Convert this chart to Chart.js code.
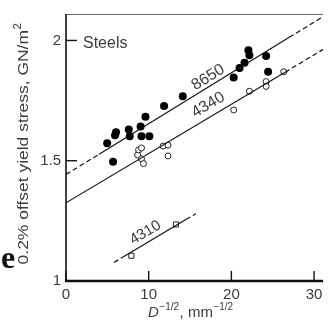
<!DOCTYPE html>
<html>
<head>
<meta charset="utf-8">
<script src="https://cdn.jsdelivr.net/npm/chart.js@4.4.1/dist/chart.umd.min.js"></script>
<style>
  html, body { margin: 0; padding: 0; background: #fff; }
  #wrap { width: 328px; height: 324px; }
</style>
</head>
<body>
<div id="wrap"><canvas id="graph"></canvas></div>
<script>
// ticks
const xTicks = [0, 10, 20, 30];
const yTicks = [1, 1.5, 2];
const yTickLabels = ['1', '1.5', '2'];

// 8650 steel (filled dots)
const s8650X = [4.98, 5.69, 5.93, 6.05, 7.59, 7.71, 9.02, 9.61, 9.13, 10.08, 11.86, 14.12, 20.28, 20.99, 21.59, 22.06, 22.18, 24.20, 24.44];
const s8650Y = [1.573, 1.496, 1.606, 1.618, 1.630, 1.602, 1.642, 1.683, 1.602, 1.602, 1.728, 1.768, 1.846, 1.886, 1.907, 1.959, 1.939, 1.935, 1.870];

// 4340 steel (open circles)
const s4340X = [8.66, 8.78, 9.13, 9.13, 9.37, 11.74, 12.34, 12.34, 20.28, 22.18, 24.20, 24.20, 26.33];
const s4340Y = [1.524, 1.545, 1.553, 1.508, 1.488, 1.561, 1.565, 1.520, 1.711, 1.789, 1.829, 1.809, 1.870];

// 4310 steel (open squares)
const s4310X = [7.9, 13.3];
const s4310Y = [1.105, 1.235];

// fitted lines (dashed ends, solid middle)
const fit8650X = [0, 4, 27, 31.1];
const fit8650Y = [1.443, 1.527, 2.013, 2.099];
const fit4340X = [0, 26.5, 31.1];
const fit4340Y = [1.325, 1.868, 1.963];
const fit4310X = [5.8, 7.0, 14.5, 15.7];
const fit4310Y = [1.077, 1.102, 1.256, 1.280];

// labels written along the lines
const lineNames = ['8650', '4340', '4310'];
const lineLabelX = [17.2, 17.2, 9.6];
const lineLabelY = [1.846, 1.732, 1.201];

function pts(xs, ys) {
    return xs.map((x, i) => ({x: x, y: ys[i]}));
}

function fitSet(xs, ys, solidIdx) {
    return {
        type: 'line',
        data: pts(xs, ys),
        borderColor: '#111',
        borderWidth: 1.2,
        pointRadius: 0,
        fill: false,
        segment: {
            borderDash: ctx => (solidIdx.indexOf(ctx.p0DataIndex) >= 0 ? [] : [5, 3])
        }
    };
}

const ink = '#3c3c3c';
const sans = '"Liberation Sans", Arial, sans-serif';

const decor = {
    id: 'decor',
    afterDatasetsDraw(chart) {
        const c = chart.ctx;
        const a = chart.chartArea;
        const xs = chart.scales.x, ys = chart.scales.y;
        c.save();
        // frame
        c.strokeStyle = '#666';
        c.lineWidth = 1;
        c.beginPath(); c.moveTo(a.left, a.top + 0.5); c.lineTo(a.right, a.top + 0.5); c.stroke();
        c.strokeStyle = '#111';
        c.lineWidth = 1.6;
        c.beginPath(); c.moveTo(a.left, a.top); c.lineTo(a.left, a.bottom); c.stroke();
        c.lineWidth = 2.6;
        c.beginPath(); c.moveTo(a.left - 1, a.bottom); c.lineTo(a.right, a.bottom); c.stroke();
        // inward ticks
        c.lineWidth = 1.4;
        yTicks.forEach(v => {
            const py = ys.getPixelForValue(v);
            c.beginPath(); c.moveTo(a.left, py); c.lineTo(a.left + 11, py); c.stroke();
        });
        xTicks.forEach(v => {
            const px = xs.getPixelForValue(v);
            c.beginPath(); c.moveTo(px, a.bottom); c.lineTo(px, a.bottom - 10); c.stroke();
        });

        c.fillStyle = ink;
        // Steels
        c.font = '16px ' + sans;
        c.textBaseline = 'middle';
        c.textAlign = 'left';
        c.fillText('Steels', 83, 44);

        // line labels
        const fits = [[fit8650X, fit8650Y], [fit4340X, fit4340Y], [fit4310X, fit4310Y]];
        c.textAlign = 'center';
        lineNames.forEach((name, i) => {
            const fx = fits[i][0], fy = fits[i][1];
            const n = fx.length - 1;
            const dx = xs.getPixelForValue(fx[n]) - xs.getPixelForValue(fx[0]);
            const dy = ys.getPixelForValue(fy[n]) - ys.getPixelForValue(fy[0]);
            c.font = (i == 2 ? '15px ' : '16px ') + sans;
            c.save();
            c.translate(xs.getPixelForValue(lineLabelX[i]), ys.getPixelForValue(lineLabelY[i]));
            c.rotate(Math.atan2(dy, dx));
            c.fillText(name, 0, 0);
            c.restore();
        });

        // y axis title, squeezed to the length it has in the picture
        c.save();
        c.translate(22, 144);
        c.rotate(-Math.PI / 2);
        c.font = '15px ' + sans;
        const main = '0.2% offset yield stress, GN/m';
        const w = c.measureText(main).width;
        c.font = '10px ' + sans;
        const ws = c.measureText('2').width;
        const k = 242 / (w + ws + 1);
        c.scale(k, 1);
        const start = -(w + ws) / 2;
        c.textAlign = 'left';
        c.textBaseline = 'alphabetic';
        c.font = '15px ' + sans;
        c.fillText(main, start, 6);
        c.font = '10px ' + sans;
        c.fillText('2', start + w + 0.5, -1);
        c.restore();

        // x axis title
        let x = 148;
        const base = 317;
        c.textAlign = 'left';
        c.textBaseline = 'alphabetic';
        const parts = [
            ['italic 15px ' + sans, 'D', 0],
            ['10px ' + sans, '\u22121/2', -7],
            ['15px ' + sans, ', mm', 0],
            ['10px ' + sans, '\u22121/2', -7]
        ];
        parts.forEach(p => {
            c.font = p[0];
            c.fillText(p[1], x, base + p[2]);
            x += c.measureText(p[1]).width + 0.5;
        });

        // stray panel letter at the left edge
        c.fillStyle = '#111';
        c.font = 'bold 32px "Liberation Serif", "Times New Roman", serif';
        c.fillText('e', 1, 268);
        c.restore();
    }
};

const ch = new Chart(document.getElementById('graph'), {
    type: 'scatter',
    data: {
        datasets: [
            fitSet(fit8650X, fit8650Y, [1]),
            fitSet(fit4340X, fit4340Y, [0]),
            fitSet(fit4310X, fit4310Y, [1]),
            {
                data: pts(s8650X, s8650Y),
                pointStyle: 'circle',
                pointRadius: 4,
                backgroundColor: '#000',
                borderColor: '#000',
                borderWidth: 0
            },
            {
                data: pts(s4340X, s4340Y),
                pointStyle: 'circle',
                pointRadius: 3,
                backgroundColor: '#fff',
                borderColor: '#222',
                borderWidth: 1
            },
            {
                data: pts(s4310X, s4310Y),
                pointStyle: 'rect',
                pointRadius: 3.6,
                backgroundColor: '#fff',
                borderColor: '#222',
                borderWidth: 1
            }
        ]
    },
    options: {
        responsive: true,
        maintainAspectRatio: false,
        animation: false,
        layout: {padding: {top: 8, right: 0, left: 0, bottom: 0}},
        plugins: {legend: {display: false}, tooltip: {enabled: false}},
        scales: {
            x: {
                type: 'linear',
                min: 0,
                max: 31.08,
                grid: {display: false, drawTicks: false},
                border: {display: false},
                afterBuildTicks: s => { s.ticks = xTicks.map(v => ({value: v})); },
                afterFit: s => { s.height = 43; },
                ticks: {
                    padding: 5,
                    color: ink,
                    font: {family: sans, size: 15},
                    callback: v => String(v)
                }
            },
            y: {
                type: 'linear',
                min: 1,
                max: 2.11,
                grid: {display: false, drawTicks: false},
                border: {display: false},
                afterBuildTicks: s => { s.ticks = yTicks.map(v => ({value: v})); },
                afterFit: s => { s.width = 66; },
                ticks: {
                    padding: 5,
                    color: ink,
                    font: {family: sans, size: 15},
                    callback: v => yTickLabels[yTicks.indexOf(v)]
                }
            }
        }
    },
    plugins: [decor]
});
</script>
</body>
</html>
